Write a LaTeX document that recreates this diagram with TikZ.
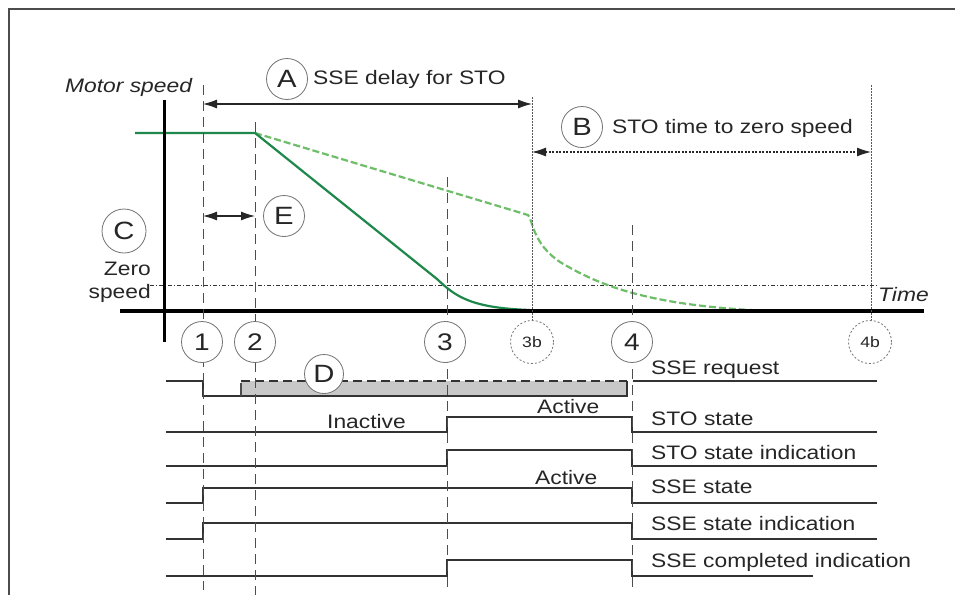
\documentclass[tikz,border=0pt]{standalone}
\usepackage{fontspec}
\setmainfont{Liberation Sans}[FakeStretch=1.17]
\usetikzlibrary{arrows.meta}
\definecolor{gsolid}{RGB}{30,135,75}
\definecolor{gdash}{RGB}{110,190,105}
\definecolor{boxgray}{RGB}{200,200,200}
\tikzset{
  lbl/.style={font=\fontsize{19.5}{22}\selectfont, inner sep=0, anchor=base west, text=black!85},
  circ/.style={circle, draw=black!55, line width=0.8, minimum size=41, inner sep=0, fill=white, font=\fontsize{24}{24}\selectfont, text=black!85},
  dcirc/.style={circ, dash pattern=on 2 off 2, minimum size=43, font=\fontsize{15}{15}\selectfont},
  vdash/.style={draw=black!70, line width=0.9, dash pattern=on 10 off 6},
  vdot/.style={draw=black!65, line width=0.8, dash pattern=on 1.5 off 1.5},
  sig/.style={draw=black!80, line width=1.2},
  dimarr/.style={draw=black!85, line width=1.1, {Latex[length=14,width=9]}-{Latex[length=14,width=9]}}
}
\begin{document}
\begin{tikzpicture}[x=1pt,y=-1pt]
\useasboundingbox (0,0) rectangle (955,595);
\fill[white] (0,0) rectangle (955,595);
% frame
\draw[black!70, line width=1.5] (955,9) -- (9,9) -- (9,595);

% zero speed line
\draw[black!80, line width=0.8, dash pattern=on 4 off 2 on 1 off 2] (150,285) -- (878,285);

% green curves
\draw[gdash, line width=2.2, dash pattern=on 7 off 3] (255,133) -- (528,215)
  .. controls (533,220) and (532,243) .. (560,262)
  .. controls (600,286) and (650,306) .. (770,311);
\draw[gsolid, line width=2.2] (135,133) -- (255,133) -- (437,279)
  .. controls (455,296) and (470,308) .. (530,310);

% axes
\draw[black, line width=3] (164,100) -- (164,342);
\draw[black, line width=4.5] (120,311) -- (924,311);

% SSE request with gray box D
\fill[boxgray] (241,381) rectangle (627,396);
\draw[sig] (166,381) -- (203,381) -- (203,396) -- (627,396) -- (627,381);
\draw[black!80, line width=1.2, dash pattern=on 9 off 5] (241,381) -- (627,381);
\draw[black!70, line width=2] (241,383) -- (241,396);
\draw[sig] (633,381) -- (877,381);

% STO state
\draw[sig] (166,432) -- (447,432) -- (447,417) -- (632,417) -- (632,432) -- (877,432);
% STO state indication
\draw[sig] (166,466) -- (447,466) -- (447,450) -- (632,450) -- (632,466) -- (877,466);
% SSE state
\draw[sig] (166,503) -- (203,503) -- (203,488) -- (632,488) -- (632,503) -- (877,503);
% SSE state indication
\draw[sig] (166,539) -- (203,539) -- (203,523) -- (632,523) -- (632,539) -- (877,539);
% SSE completed indication
\draw[sig] (166,576) -- (447,576) -- (447,560) -- (632,560) -- (632,576) -- (813,576);

% vertical dashed lines
\draw[vdash] (203,85) -- (203,590);
\draw[vdash] (255,122) -- (255,595);
\draw[vdash] (447,177) -- (447,590);
\draw[vdash] (632,225) -- (632,588);
% vertical dotted lines
\draw[vdot] (532,97) -- (532,322);
\draw[vdot] (871,85) -- (871,322);

% dimension arrows
\coordinate (aL) at (203,104); \coordinate (aR) at (532,104);
\draw[dimarr] (aL) -- (aR);
\coordinate (bL) at (532,152); \coordinate (bR) at (871,152);
\draw[dimarr, dash pattern=on 2 off 1.5] (bL) -- (bR);
\coordinate (eL) at (203,216); \coordinate (eR) at (255,216);
\draw[dimarr] (eL) -- (eR);

% circled letters
\node[circ, font=\fontsize{25}{25}\selectfont] (cA) at (287,79) {A};
\node[circ, font=\fontsize{25}{25}\selectfont] (cB) at (582,127) {B};
\node[circ, font=\fontsize{25}{25}\selectfont] (cE) at (284,216) {E};
\node[circ, font=\fontsize{25}{25}\selectfont, minimum size=44] (cC) at (124,231) {C};
\node[circ, font=\fontsize{25}{25}\selectfont, minimum size=39] (cD) at (324,374) {D};

% circled numbers
\node[circ] (n1) at (202,342) {1};
\node[circ] (n2) at (255,342) {2};
\node[circ] (n3) at (445,342) {3};
\node[dcirc] (n3b) at (532,342) {3b};
\node[circ] (n4) at (632,342) {4};
\node[dcirc] (n4b) at (870,342) {4b};

% labels
\node[lbl] (tA) at (313,84) {SSE delay for STO};
\node[lbl] (tB) at (612,133) {STO time to zero speed};
\node[lbl, font=\fontsize{19.5}{22}\selectfont\itshape] (tms) at (65,92) {Motor speed};
\node[lbl, font=\fontsize{19.5}{22}\selectfont\itshape] (ttime) at (878,301) {Time};
\node[lbl, anchor=base east] (tz1) at (151,275) {Zero};
\node[lbl, anchor=base east] (tz2) at (151,298) {speed};

\node[lbl] (s1) at (651,374) {SSE request};
\node[lbl] (s2) at (651,425) {STO state};
\node[lbl] (s3) at (651,459) {STO state indication};
\node[lbl] (s4) at (651,493) {SSE state};
\node[lbl] (s5) at (651,530) {SSE state indication};
\node[lbl] (s6) at (651,567) {SSE completed indication};

\node[lbl] (act1) at (537,413) {Active};
\node[lbl] (act2) at (535,484) {Active};
\node[lbl] (inact) at (327,428) {Inactive};
\end{tikzpicture}
\end{document}
